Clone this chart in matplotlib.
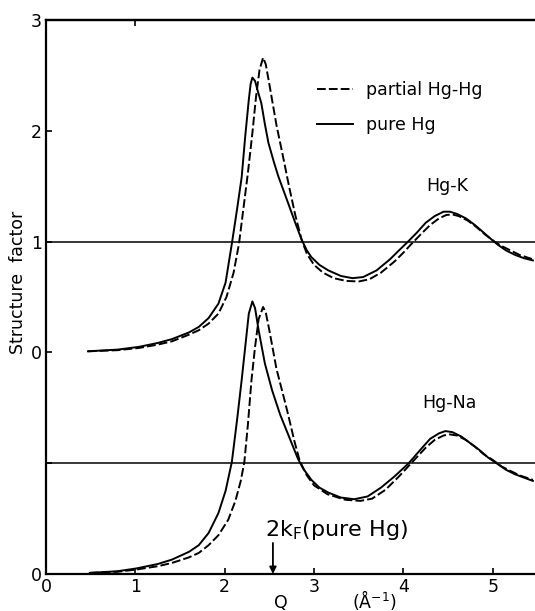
import numpy as np
import matplotlib
matplotlib.use('Agg')
import matplotlib.pyplot as plt

plt.rcParams['font.family'] = ['DejaVu Sans']

# Hg-K (upper curves, drawn shifted up by 2)
q_k_pure = [0.47, 0.80, 1.04, 1.25, 1.41, 1.60, 1.71, 1.82, 1.93, 2.01, 2.08, 2.14, 2.19, 2.23,
            2.27, 2.29, 2.31, 2.34, 2.37, 2.41, 2.45, 2.49, 2.55, 2.60, 2.70, 2.79, 2.86, 2.92,
            2.97, 3.06, 3.16, 3.30, 3.43, 3.55, 3.70, 3.85, 3.95, 4.04, 4.15, 4.25, 4.35, 4.45,
            4.52, 4.60, 4.70, 4.80, 4.90, 5.00, 5.06, 5.15, 5.25, 5.35, 5.45]
s_k_pure = [0.01, 0.025, 0.05, 0.085, 0.12, 0.18, 0.23, 0.31, 0.44, 0.63, 0.98, 1.30, 1.58, 1.95,
            2.28, 2.42, 2.48, 2.45, 2.36, 2.25, 2.06, 1.89, 1.72, 1.59, 1.37, 1.17, 1.02, 0.92,
            0.86, 0.79, 0.74, 0.69, 0.67, 0.68, 0.74, 0.84, 0.92, 0.99, 1.08, 1.17, 1.23, 1.27,
            1.27, 1.25, 1.21, 1.15, 1.08, 1.01, 0.97, 0.92, 0.88, 0.85, 0.83]
q_k_part = [0.47, 0.80, 1.04, 1.25, 1.41, 1.60, 1.71, 1.82, 1.93, 2.02, 2.10, 2.16, 2.21, 2.26,
            2.31, 2.35, 2.39, 2.43, 2.46, 2.50, 2.58, 2.66, 2.72, 2.79, 2.86, 2.92, 3.00, 3.10,
            3.22, 3.36, 3.50, 3.62, 3.75, 3.90, 4.00, 4.08, 4.20, 4.30, 4.40, 4.48, 4.55, 4.62,
            4.72, 4.82, 4.92, 5.02, 5.10, 5.20, 5.30, 5.45]
s_k_part = [0.01, 0.02, 0.04, 0.07, 0.10, 0.16, 0.20, 0.26, 0.35, 0.50, 0.72, 0.98, 1.30, 1.62,
            1.98, 2.30, 2.55, 2.66, 2.60, 2.42, 2.05, 1.74, 1.50, 1.24, 1.02, 0.89, 0.79, 0.72,
            0.67, 0.645, 0.64, 0.66, 0.72, 0.82, 0.90, 0.97, 1.07, 1.15, 1.21, 1.24, 1.245, 1.23,
            1.19, 1.13, 1.06, 1.00, 0.96, 0.92, 0.88, 0.84]

# Hg-Na (lower curves)
q_na_pure = [0.49, 0.80, 1.01, 1.25, 1.41, 1.60, 1.71, 1.82, 1.93, 2.01, 2.08, 2.14, 2.19, 2.23,
             2.27, 2.31, 2.34, 2.38, 2.45, 2.53, 2.62, 2.71, 2.77, 2.82, 2.88, 2.97, 3.06, 3.16,
             3.30, 3.45, 3.60, 3.75, 3.90, 4.06, 4.20, 4.30, 4.40, 4.47, 4.55, 4.65, 4.75, 4.85,
             4.95, 5.06, 5.15, 5.25, 5.35, 5.45]
s_na_pure = [0.01, 0.025, 0.05, 0.09, 0.13, 0.20, 0.26, 0.37, 0.55, 0.75, 1.01, 1.40, 1.75, 2.05,
             2.35, 2.46, 2.40, 2.20, 1.90, 1.66, 1.44, 1.26, 1.14, 1.04, 0.95, 0.85, 0.78, 0.735,
             0.69, 0.675, 0.70, 0.78, 0.88, 1.00, 1.13, 1.22, 1.27, 1.29, 1.28, 1.24, 1.18, 1.12,
             1.05, 0.99, 0.94, 0.90, 0.87, 0.84]
q_na_part = [0.49, 0.80, 1.01, 1.25, 1.41, 1.60, 1.71, 1.82, 1.93, 2.04, 2.12, 2.18, 2.22, 2.26,
             2.30, 2.34, 2.38, 2.43, 2.46, 2.50, 2.58, 2.66, 2.71, 2.78, 2.84, 2.92, 3.00, 3.15,
             3.35, 3.52, 3.65, 3.80, 3.95, 4.10, 4.25, 4.35, 4.45, 4.52, 4.60, 4.70, 4.80, 4.90,
             5.00, 5.10, 5.20, 5.30, 5.45]
s_na_part = [0.01, 0.02, 0.04, 0.07, 0.10, 0.15, 0.19, 0.26, 0.35, 0.49, 0.66, 0.84, 1.01, 1.35,
             1.75, 2.05, 2.30, 2.41, 2.36, 2.20, 1.85, 1.60, 1.44, 1.20, 1.02, 0.89, 0.80, 0.72,
             0.67, 0.66, 0.68, 0.76, 0.88, 1.01, 1.14, 1.21, 1.25, 1.26, 1.25, 1.21, 1.15, 1.08,
             1.03, 0.97, 0.93, 0.89, 0.85]

offset_k = 2.0
q_2kf = 2.54
y_ticks = [0, 1, 2, 3, 4, 5]
y_ticklabels = ['0', '', '0', '1', '2', '3']
x_ticks = [0, 1, 2, 3, 4, 5]

W, H = 535, 611
fig = plt.figure(figsize=(W / 100, H / 100), dpi=100)
ax = fig.add_axes([46 / W, 1 - 574 / H, (W - 46) / W + 0.01, (574 - 20) / H])
ax.set_xlim(0, (W - 46) / 90 + 0.1)
ax.set_ylim(0, 5)

lw = 1.4
dash = (4.5, 1.6)
ax.plot(q_k_part, np.array(s_k_part) + offset_k, color='black', lw=lw, dashes=dash,
        label='partial Hg-Hg')
ax.plot(q_k_pure, np.array(s_k_pure) + offset_k, color='black', lw=lw, label='pure Hg')
ax.plot(q_na_part, s_na_part, color='black', lw=lw, dashes=dash)
ax.plot(q_na_pure, s_na_pure, color='black', lw=lw)

ax.axhline(1 + offset_k, color='black', lw=1.1)
ax.axhline(1, color='black', lw=1.1)

for side in ['left', 'bottom', 'top']:
    ax.spines[side].set_linewidth(1.6)
ax.spines['right'].set_visible(False)

ax.set_xticks(x_ticks)
ax.set_xticklabels([str(t) for t in x_ticks])
ax.set_yticks(y_ticks)
ax.set_yticklabels(y_ticklabels)
ax.tick_params(direction='in', length=4, width=1.2, labelsize=12.5, pad=3)

# only one tick mark survives on the top frame
top = ax.secondary_xaxis('top')
top.set_xticks([1])
top.set_xticklabels([])
top.tick_params(direction='in', length=4, width=1.2)
top.spines['top'].set_linewidth(1.6)

leg = ax.legend(loc='upper left', bbox_to_anchor=(317 / W, 1 - 81 / H),
                bbox_transform=fig.transFigure, frameon=False, fontsize=12.5,
                handlelength=2.1, handletextpad=0.75, labelspacing=1.0,
                borderpad=0, borderaxespad=0)

ax.text(4.49, 1.5 + offset_k, 'Hg-K', ha='center', va='center', fontsize=12.5)
ax.text(4.52, 1.545, 'Hg-Na', ha='center', va='center', fontsize=12.5)

ax.text(2.45, 0.40, r'2k$_\mathrm{F}$(pure Hg)', ha='left', va='center', fontsize=16)
ax.annotate('', xy=(q_2kf, 0.0), xytext=(q_2kf, 0.28),
            arrowprops=dict(arrowstyle='-|>', color='black', lw=1.3,
                            mutation_scale=10, shrinkA=0, shrinkB=0))

fig.text(18 / W, 1 - 282 / H, 'Structure  factor', rotation=90, ha='center', va='center',
         fontsize=12.5)
fig.text(281 / W, 1 - 603 / H, 'Q', ha='center', va='center', fontsize=12.5)
fig.text(374 / W, 1 - 600 / H, r'(Å$^{-1}$)', ha='center', va='center', fontsize=12.5)

fig.savefig('out.png', dpi=100)
